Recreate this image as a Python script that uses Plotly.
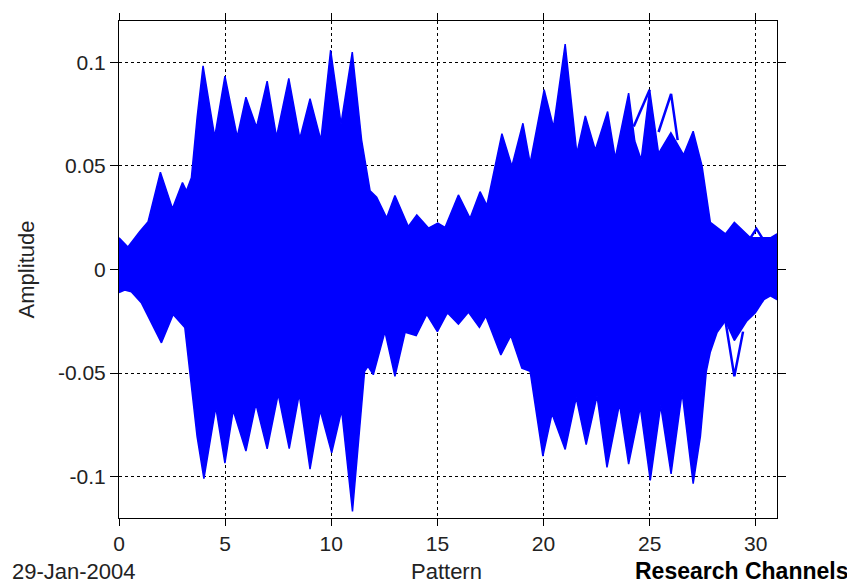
import plotly.graph_objects as go

# Upper envelope of the overlaid waveforms (pattern, amplitude)
upper_x = [0, 0.42, 0.98, 1.37, 1.95, 2.52, 2.99, 3.18, 3.41, 3.68, 3.96, 4.51, 4.99, 5.57,
           5.98, 6.48, 6.98, 7.42, 8.0, 8.52, 9.0, 9.51, 9.97, 10.46, 10.99, 11.43, 11.83,
           12.14, 12.61, 13.0, 13.63, 14.03, 14.58, 15.02, 15.36, 15.99, 16.54, 17.01, 17.33,
           17.72, 18.04, 18.51, 19.03, 19.37, 20.03, 20.47, 21.02, 21.57, 21.97, 22.44, 23.02,
           23.38, 24.01, 24.3, 24.6, 25.0, 25.42, 26.0, 26.6, 27.05, 27.47, 27.86, 28.57,
           28.99, 29.75, 30.3, 30.69, 31.0]
upper_y = [0.0153, 0.0109, 0.0184, 0.0231, 0.047, 0.0294, 0.042, 0.038, 0.0443, 0.0734,
           0.0983, 0.064, 0.0934, 0.064, 0.0832, 0.0687, 0.091, 0.064, 0.0923, 0.0632,
           0.0825, 0.0625, 0.106, 0.0703, 0.105, 0.0625, 0.038, 0.0349, 0.025, 0.0357,
           0.0208, 0.0263, 0.02, 0.0224, 0.0203, 0.036, 0.0247, 0.0376, 0.031, 0.0499,
           0.0656, 0.0499, 0.0706, 0.0514, 0.0868, 0.0687, 0.1088, 0.0561, 0.0742, 0.0577,
           0.0763, 0.0538, 0.0852, 0.062, 0.053, 0.0868, 0.0561, 0.066, 0.0554, 0.0668,
           0.0499, 0.0228, 0.0172, 0.0228, 0.0153, 0.0153, 0.0153, 0.0172]

# Lower envelope of the overlaid waveforms
lower_x = [0, 0.27, 0.58, 1.06, 2.0, 2.55, 3.1, 3.33, 3.68, 4.0, 4.56, 4.99, 5.38, 5.98,
           6.45, 6.98, 7.5, 8.02, 8.49, 9.0, 9.48, 10.02, 10.49, 11.0, 11.27, 11.57, 11.73,
           11.98, 12.53, 13.0, 13.48, 14.0, 14.5, 15.0, 15.47, 15.99, 16.46, 16.98, 17.28,
           17.99, 18.46, 18.98, 19.37, 19.97, 20.4, 21.02, 21.54, 22.01, 22.52, 22.99, 23.58,
           24.01, 24.56, 25.03, 25.52, 26.01, 26.53, 27.05, 27.39, 27.67, 27.86, 28.18,
           28.57, 28.99, 29.58, 29.98, 30.38, 30.69, 31.0]
lower_y = [-0.0111, -0.0099, -0.0107, -0.0162, -0.0354, -0.0217, -0.028, -0.0492, -0.0807,
           -0.101, -0.0665, -0.0935, -0.068, -0.0877, -0.0649, -0.0866, -0.0602, -0.0865,
           -0.0602, -0.0964, -0.068, -0.0885, -0.068, -0.1168, -0.0838, -0.0492, -0.0468,
           -0.0508, -0.030, -0.0516, -0.0303, -0.0319, -0.0217, -0.030, -0.0209, -0.0264,
           -0.0206, -0.028, -0.0225, -0.0413, -0.0319, -0.0476, -0.0492, -0.0901, -0.0696,
           -0.0869, -0.0618, -0.0846, -0.061, -0.0956, -0.0649, -0.094, -0.0665, -0.1019,
           -0.0657, -0.0987, -0.0594, -0.1034, -0.0807, -0.0492, -0.0398, -0.0303, -0.0248,
           -0.0343, -0.0248, -0.0209, -0.0146, -0.0127, -0.0146]

# A few individual traces that stand out from the envelope
stray_a_x = [24.25, 25.0]
stray_a_y = [0.069, 0.0868]
stray_b_x = [25.42, 26.01, 26.32]
stray_b_y = [0.0664, 0.0848, 0.0625]
stray_c_x = [29.75, 30.03, 30.3]
stray_c_y = [0.0153, 0.0197, 0.0153]
stray_d_x = [28.57, 28.99, 29.4]
stray_d_y = [-0.0248, -0.0516, -0.030]

x_ticks = [0, 5, 10, 15, 20, 25, 30]
y_ticks = [-0.1, -0.05, 0, 0.05, 0.1]
y_tick_text = ["-0.1", "-0.05", "0", "0.05", "0.1"]

BLUE = "#0000FF"
FONT = "Liberation Sans, Arial, sans-serif"

fig = go.Figure()

poly_x = upper_x + lower_x[::-1]
poly_y = upper_y + lower_y[::-1]
fig.add_trace(go.Scatter(x=poly_x, y=poly_y, mode="lines", fill="toself",
                         fillcolor=BLUE, line=dict(color=BLUE, width=1.5),
                         hoverinfo="skip", showlegend=False))
for sx, sy in [(stray_a_x, stray_a_y), (stray_b_x, stray_b_y),
               (stray_c_x, stray_c_y), (stray_d_x, stray_d_y)]:
    fig.add_trace(go.Scatter(x=sx, y=sy, mode="lines",
                             line=dict(color=BLUE, width=2.5), showlegend=False))

axis_common = dict(showline=True, linecolor="black", linewidth=1, mirror="ticks",
                   ticks="outside", tickcolor="black", tickwidth=1,
                   showgrid=True, gridcolor="black", gridwidth=1, griddash="3px,3px",
                   zeroline=False, tickfont=dict(family=FONT, size=21, color="#222"))

fig.update_xaxes(range=[0, 31], tickvals=x_ticks, ticklen=7, **axis_common)
fig.update_yaxes(range=[-0.12, 0.12], tickvals=y_ticks, ticktext=y_tick_text,
                 ticklen=8, **axis_common)

# The page adds an 8px body margin, so the figure is sized/offset to compensate.
fig.update_layout(
    width=847, height=580,
    margin=dict(l=111, r=78, t=5, b=70),
    paper_bgcolor="white", plot_bgcolor="white",
    showlegend=False,
    annotations=[
        dict(text="Pattern", xref="paper", yref="paper", x=0.497, y=-0.107,
             xanchor="center", yanchor="middle", showarrow=False,
             font=dict(family=FONT, size=22, color="#222")),
        dict(text="Amplitude", xref="paper", yref="paper", x=-0.14, y=0.5,
             xanchor="center", yanchor="middle", showarrow=False, textangle=-90,
             font=dict(family=FONT, size=22, color="#222")),
        dict(text="29-Jan-2004", xref="paper", yref="paper", x=-0.166, y=-0.107,
             xanchor="left", yanchor="middle", showarrow=False,
             font=dict(family=FONT, size=22, color="#222")),
        dict(text="<b>Research Channels</b>", xref="paper", yref="paper", x=1.111, y=-0.107,
             xanchor="right", yanchor="middle", showarrow=False,
             font=dict(family=FONT, size=23, color="black")),
    ],
)

fig.write_html("out.html")
